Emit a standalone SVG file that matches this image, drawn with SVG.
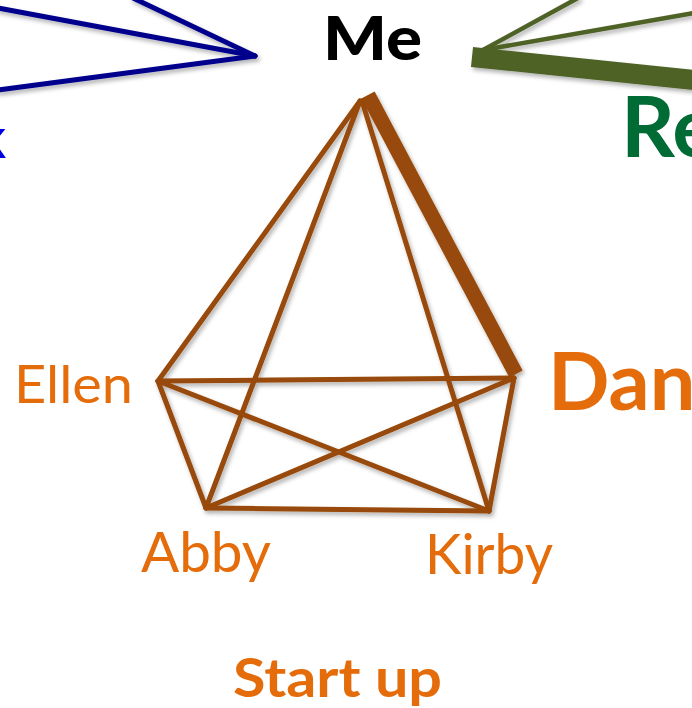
<svg xmlns="http://www.w3.org/2000/svg" width="692" height="708" viewBox="0 0 692 708">
<defs>
<filter id="sh" x="-10%" y="-10%" width="130%" height="130%">
<feDropShadow dx="2" dy="3" stdDeviation="2" flood-color="#000" flood-opacity="0.3"/>
</filter>
<style>
.br{stroke:#984807;stroke-width:5;fill:none;stroke-linecap:round}
.bl{stroke:#00008c;stroke-width:5;fill:none;stroke-linecap:round}
.gr{stroke:#4f6228;stroke-width:4.5;fill:none;stroke-linecap:round}
.or{fill:#e46c0a;font-family:Lato,"Liberation Sans",sans-serif}
.b{font-weight:bold}
</style>
</defs>
<rect width="692" height="708" fill="#fff"/>
<g id="connectors" filter="url(#sh)">
<line class="bl" x1="255" y1="56" x2="133" y2="-2"/>
<line class="bl" x1="255" y1="56" x2="-2" y2="8"/>
<line class="bl" x1="255" y1="56" x2="-2" y2="90"/>
<line class="gr" x1="483" y1="50" x2="578" y2="-2"/>
<line class="gr" x1="483" y1="50" x2="694" y2="13"/>
<line class="gr" x1="472" y1="57" x2="694" y2="80" style="stroke-width:20;stroke-linecap:butt"/>
<line class="br" x1="360" y1="101" x2="158" y2="381"/>
<line class="br" x1="360" y1="101" x2="206" y2="508"/>
<line class="br" x1="362" y1="101" x2="489" y2="511"/>
<line class="br" x1="158" y1="381" x2="514" y2="378"/>
<line class="br" x1="158" y1="381" x2="206" y2="508"/>
<line class="br" x1="158" y1="381" x2="489" y2="511"/>
<line class="br" x1="514" y1="378" x2="206" y2="508"/>
<line class="br" x1="514" y1="378" x2="489" y2="511"/>
<line class="br" x1="206" y1="508" x2="489" y2="511"/>
<line class="br" x1="368" y1="95" x2="516" y2="374" style="stroke-width:15;stroke-linecap:butt"/>
</g>
<g id="node-me"><text x="323" y="60" font-family="Lato,'Liberation Sans',sans-serif" font-weight="900" font-size="60" fill="#000" textLength="99" lengthAdjust="spacingAndGlyphs">Me</text></g>
<g id="node-k"><text x="6" y="158" text-anchor="end" font-family="Lato,'Liberation Sans',sans-serif" font-weight="bold" font-size="56" fill="#0000e0">k</text></g>
<g id="node-re"><text x="621" y="157" font-family="Lato,'Liberation Sans',sans-serif" font-weight="bold" font-size="84" fill="#006b35">Re</text></g>
<g id="node-ellen"><text class="or" x="14" y="403" font-size="52" textLength="119" lengthAdjust="spacingAndGlyphs">Ellen</text></g>
<g id="node-dan"><text class="or b" x="548" y="410" font-size="81">Dan</text></g>
<g id="node-abby"><text class="or" x="141" y="572" font-size="56" textLength="130" lengthAdjust="spacingAndGlyphs">Abby</text></g>
<g id="node-kirby"><text class="or" x="425" y="574" font-size="56" textLength="128" lengthAdjust="spacingAndGlyphs">Kirby</text></g>
<g id="label-startup"><text class="or b" x="233" y="697" font-size="54" textLength="209" lengthAdjust="spacingAndGlyphs">Start up</text></g>
</svg>
